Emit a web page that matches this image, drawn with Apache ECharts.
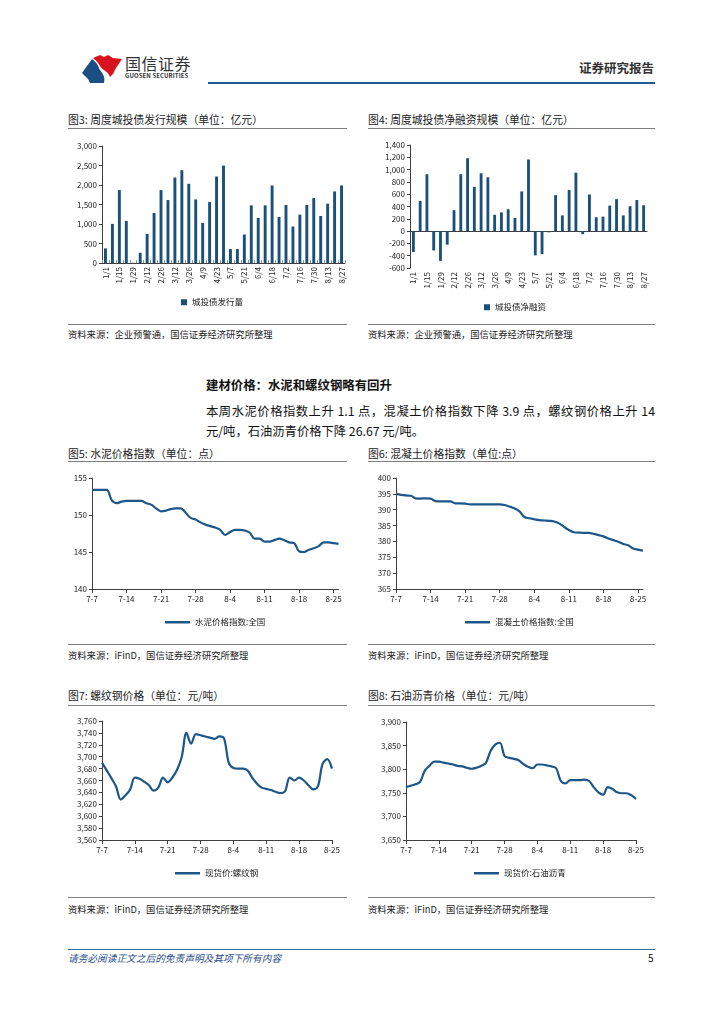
<!DOCTYPE html>
<html><head><meta charset="utf-8">
<script src="https://cdn.jsdelivr.net/npm/echarts@6/dist/echarts.min.js"></script>
<style>
html,body{margin:0;padding:0;background:#fff;}
body{width:724px;height:1024px;position:relative;overflow:hidden;font-family:"Noto Sans CJK SC","Noto Sans",sans-serif;color:#222;}
.t{position:absolute;white-space:nowrap;line-height:14px;}
.ln{position:absolute;height:1px;background:#7f7f7f;}
.ch{position:absolute;}
.cap{font-size:10.8px;color:#222;}
.src{font-size:9.3px;color:#222;}
</style></head>
<body>
<svg style="position:absolute;left:80px;top:54px" width="45" height="31" viewBox="0 0 45 31">
  <path d="M13,4 L20,1 L24,3 L28,1 L33,4 L42,5 L36,14 L33,20 L30,23 C28,17 22,16 20,12 C19,9 16,7 13,4 Z" fill="#d7141e"/>
  <path d="M2,19 L12,5 C16,8 18,11 19,14 C21,19 26,21 24,29 L10,29 L8,25 Z" fill="#1b4f84"/>
</svg>
<div class="t" style="left:125px;top:55px;font-size:16px;line-height:16px;color:#333;letter-spacing:0.5px;">国信证券</div>
<div class="t" style="left:125px;top:72px;font-size:6px;line-height:7px;color:#333;font-weight:bold;letter-spacing:0.1px;">GUOSEN SECURITIES</div>
<div class="t" style="left:579px;top:61px;font-size:12.5px;font-weight:bold;color:#333;">证券研究报告</div>
<div style="position:absolute;left:208px;top:82px;width:447px;height:2px;background:#1f5a93;"></div>

<div class="t cap" style="left:68px;top:112px;">图3: 周度城投债发行规模（单位：亿元）</div>
<div class="t cap" style="left:368px;top:112px;">图4: 周度城投债净融资规模（单位：亿元）</div>
<div class="ln" style="left:68px;top:128px;width:279px;"></div>
<div class="ln" style="left:368px;top:128px;width:287px;"></div>
<div id="c3" class="ch" style="left:60px;top:136px;width:287px;height:180px;"></div>
<div id="c4" class="ch" style="left:360px;top:136px;width:295px;height:180px;"></div>
<div class="ln" style="left:68px;top:324px;width:279px;"></div>
<div class="ln" style="left:368px;top:324px;width:287px;"></div>
<div class="t src" style="left:68px;top:327px;">资料来源：企业预警通，国信证券经济研究所整理</div>
<div class="t src" style="left:368px;top:327px;">资料来源：企业预警通，国信证券经济研究所整理</div>

<div class="t" style="left:206px;top:376px;font-size:12.4px;line-height:18px;font-weight:bold;letter-spacing:0px;color:#111;">建材价格：水泥和螺纹钢略有回升</div>
<div class="t" style="left:206px;top:403px;width:449px;font-size:12.3px;line-height:16px;text-align:justify;text-align-last:justify;color:#111;">本周水泥价格指数上升 1.1 点，混凝土价格指数下降 3.9 点，螺纹钢价格上升 14</div>
<div class="t" style="left:206px;top:423px;font-size:12.3px;line-height:16px;color:#111;">元/吨，石油沥青价格下降 26.67 元/吨。</div>

<div class="t cap" style="left:68px;top:446px;">图5: 水泥价格指数（单位：点）</div>
<div class="t cap" style="left:368px;top:446px;">图6: 混凝土价格指数（单位:点）</div>
<div class="ln" style="left:68px;top:461px;width:279px;"></div>
<div class="ln" style="left:368px;top:461px;width:287px;"></div>
<div id="c5" class="ch" style="left:60px;top:466px;width:287px;height:165px;"></div>
<div id="c6" class="ch" style="left:360px;top:466px;width:295px;height:165px;"></div>
<div class="ln" style="left:68px;top:644px;width:279px;"></div>
<div class="ln" style="left:368px;top:644px;width:287px;"></div>
<div class="t src" style="left:68px;top:648px;">资料来源：iFinD，国信证券经济研究所整理</div>
<div class="t src" style="left:368px;top:648px;">资料来源：iFinD，国信证券经济研究所整理</div>

<div class="t cap" style="left:68px;top:688px;">图7: 螺纹钢价格（单位：元/吨）</div>
<div class="t cap" style="left:368px;top:688px;">图8: 石油沥青价格（单位：元/吨）</div>
<div class="ln" style="left:68px;top:705px;width:279px;"></div>
<div class="ln" style="left:368px;top:705px;width:287px;"></div>
<div id="c7" class="ch" style="left:60px;top:708px;width:283px;height:175px;"></div>
<div id="c8" class="ch" style="left:360px;top:708px;width:287px;height:175px;"></div>
<div class="ln" style="left:68px;top:897px;width:279px;"></div>
<div class="ln" style="left:368px;top:897px;width:287px;"></div>
<div class="t src" style="left:68px;top:902px;">资料来源：iFinD，国信证券经济研究所整理</div>
<div class="t src" style="left:368px;top:902px;">资料来源：iFinD，国信证券经济研究所整理</div>

<div style="position:absolute;left:68px;top:949px;width:587px;height:1px;background:#3b6ea5;"></div>
<div class="t" style="left:68px;top:951px;font-size:9.7px;font-style:italic;color:#1f4e8c;">请务必阅读正文之后的免责声明及其项下所有内容</div>
<div class="t" style="left:648px;top:951px;font-size:10px;color:#111;">5</div>

<script>
// ---------- data ----------
var weeks = ['1/1','1/8','1/15','1/22','1/29','2/5','2/12','2/19','2/26','3/5','3/12','3/19','3/26','4/2','4/9','4/16','4/23','4/30','5/7','5/14','5/21','5/28','6/4','6/11','6/18','6/25','7/2','7/9','7/16','7/23','7/30','8/6','8/13','8/20','8/27'];
var issuance = [374,1003,1869,1079,5,263,748,1283,1869,1614,2192,2379,2031,1631,1028,1563,2218,2498,357,357,731,1478,1156,1478,1988,1181,1487,935,1240,1487,1665,1206,1521,1835,1988];
var netFinancing = [-340,490,925,-315,-485,-220,340,925,1185,720,940,875,265,305,355,215,645,1165,-395,-375,-20,585,255,670,950,-50,595,225,235,415,520,255,405,505,420];

var days51 = ['7-7','7-8','7-9','7-10','7-11','7-12','7-13','7-14','7-15','7-16','7-17','7-18','7-19','7-20','7-21','7-22','7-23','7-24','7-25','7-26','7-27','7-28','7-29','7-30','7-31','8-1','8-2','8-3','8-4','8-5','8-6','8-7','8-8','8-9','8-10','8-11','8-12','8-13','8-14','8-15','8-16','8-17','8-18','8-19','8-20','8-21','8-22','8-23','8-24','8-25','8-26'];
var days50 = ['7-7','7-8','7-9','7-10','7-11','7-12','7-13','7-14','7-15','7-16','7-17','7-18','7-19','7-20','7-21','7-22','7-23','7-24','7-25','7-26','7-27','7-28','7-29','7-30','7-31','8-1','8-2','8-3','8-4','8-5','8-6','8-7','8-8','8-9','8-10','8-11','8-12','8-13','8-14','8-15','8-16','8-17','8-18','8-19','8-20','8-21','8-22','8-23','8-24','8-25'];

var cement = [153.4,153.4,153.4,153.4,152.0,151.6,151.8,151.9,151.9,151.9,151.9,151.6,151.4,150.9,150.5,150.6,150.8,150.9,150.9,150.3,149.6,149.4,149.0,148.7,148.5,148.3,148.0,147.3,147.7,148.0,148.0,147.9,147.6,146.8,146.8,146.4,146.4,146.6,146.8,146.6,146.3,146.2,145.1,145.0,145.3,145.5,145.8,146.3,146.3,146.2,146.1];
var concrete = [395.0,394.7,394.5,394.4,393.6,393.5,393.6,393.5,392.7,392.6,392.6,392.6,392.0,392.0,391.9,391.7,391.7,391.7,391.7,391.7,391.7,391.7,391.5,391.0,390.4,389.5,387.7,387.3,387.0,386.7,386.6,386.5,386.3,385.7,384.6,383.6,382.9,382.8,382.7,382.7,382.4,382.0,381.6,380.9,380.4,379.9,379.2,378.8,377.8,377.4,377.1];
var rebar = [3690,3677,3664,3650,3628,3635,3645,3665,3663,3658,3652,3643,3648,3665,3657,3665,3678,3700,3740,3722,3738,3736,3734,3732,3730,3734,3731,3690,3681,3680,3680,3677,3665,3655,3648,3646,3644,3641,3639,3642,3665,3660,3665,3660,3652,3645,3650,3688,3696,3680];
var asphalt = [3762,3765,3768,3773,3797,3807,3816,3816,3814,3812,3810,3807,3806,3803,3801,3803,3807,3813,3838,3852,3856,3828,3824,3822,3819,3811,3805,3802,3810,3810,3808,3806,3802,3775,3770,3777,3777,3777,3778,3775,3762,3751,3746,3762,3758,3751,3749,3749,3745,3737];

// ---------- styles ----------
var FONT = '"Noto Sans CJK SC","Noto Sans",sans-serif';
var AX = '#404040';
var BAR = '#1a5079';
var LINE = '#1d5688';
function thousands(v){ return echarts.format.addCommas(v); }

function barChart(id, cats, vals, name, grid, legendLeft, yMin, yMax, yInt, twoAxes){
  var ch = echarts.init(document.getElementById(id));
  var labelAxis = {
    type:'category', data:cats, position:'bottom',
    axisLine:{show:!twoAxes, onZero:false, lineStyle:{color:AX,width:1}},
    axisTick:{show:!twoAxes, inside:true, length:3, interval:0, lineStyle:{color:'#8a9bb0'}},
    axisLabel:{rotate:90, interval:1, fontSize:8, color:'#222', margin:4, fontFamily:FONT}
  };
  var xAxis = [labelAxis];
  if (twoAxes){
    xAxis = [{
      type:'category', data:cats, position:'bottom',
      axisLine:{show:true, onZero:true, lineStyle:{color:AX,width:1}},
      axisTick:{inside:true, length:3, interval:0, lineStyle:{color:'#8a9bb0'}},
      axisLabel:{show:false}
    }, labelAxis];
  }
  ch.setOption({
    animation:false,
    textStyle:{fontFamily:FONT},
    grid:grid,
    legend:{left:legendLeft, top:grid.legendTop, itemWidth:6, itemHeight:6, icon:'rect', itemGap:4,
      textStyle:{fontSize:8.5, color:'#222', fontFamily:FONT}, data:[name]},
    xAxis:xAxis,
    yAxis:{type:'value', min:yMin, max:yMax, interval:yInt, splitLine:{show:false},
      axisLine:{show:true, lineStyle:{color:AX}},
      axisTick:{show:true, length:3, lineStyle:{color:AX}},
      axisLabel:{fontSize:8, color:'#222', margin:5, formatter:thousands, fontFamily:FONT}},
    series:[{name:name, type:'bar', data:vals, xAxisIndex:0, barWidth:'42%', itemStyle:{color:BAR}}]
  });
}

function lineChart(id, cats, vals, name, grid, legendLeft, yMin, yMax, yInt){
  var ch = echarts.init(document.getElementById(id));
  ch.setOption({
    animation:false,
    textStyle:{fontFamily:FONT},
    grid:grid,
    legend:{left:legendLeft, top:grid.legendTop, itemWidth:25, itemHeight:2.5, icon:'rect', itemGap:4,
      textStyle:{fontSize:8.5, color:'#222', fontFamily:FONT}, data:[name]},
    xAxis:{type:'category', data:cats, boundaryGap:false,
      axisLine:{lineStyle:{color:AX}},
      axisTick:{show:true, length:4, interval:6, lineStyle:{color:AX}},
      axisLabel:{interval:6, fontSize:8, color:'#222', margin:6, fontFamily:FONT}},
    yAxis:{type:'value', min:yMin, max:yMax, interval:yInt, splitLine:{show:false},
      axisLine:{show:true, lineStyle:{color:AX}},
      axisTick:{show:true, length:3, lineStyle:{color:AX}},
      axisLabel:{fontSize:8, color:'#222', margin:5, formatter:thousands, fontFamily:FONT}},
    series:[{name:name, type:'line', data:vals, symbol:'none', smooth:0.35,
      lineStyle:{color:LINE, width:2.2}, itemStyle:{color:LINE}}]
  });
}

barChart('c3', weeks, issuance, '城投债发行量', {left:42, right:2, top:10, bottom:53, legendTop:157}, 116, 0, 3000, 500, false);
barChart('c4', weeks, netFinancing, '城投债净融资', {left:50, right:8, top:9, bottom:48, legendTop:162}, 119, -600, 1400, 200, true);
lineChart('c5', days51, cement, '水泥价格指数:全国', {left:32, right:8.5, top:12, bottom:42, legendTop:147}, 100, 140, 155, 5);
lineChart('c6', days51, concrete, '混凝土价格指数:全国', {left:36, right:12, top:12, bottom:42, legendTop:147}, 100, 365, 400, 5);
lineChart('c7', days50, rebar, '现货价:螺纹钢', {left:42, right:3, top:13, bottom:43, legendTop:156}, 110, 3560, 3760, 20);
lineChart('c8', days50, asphalt, '现货价:石油沥青', {left:46, right:4, top:14, bottom:43, legendTop:156}, 109, 3650, 3900, 50);
</script>
</body></html>
